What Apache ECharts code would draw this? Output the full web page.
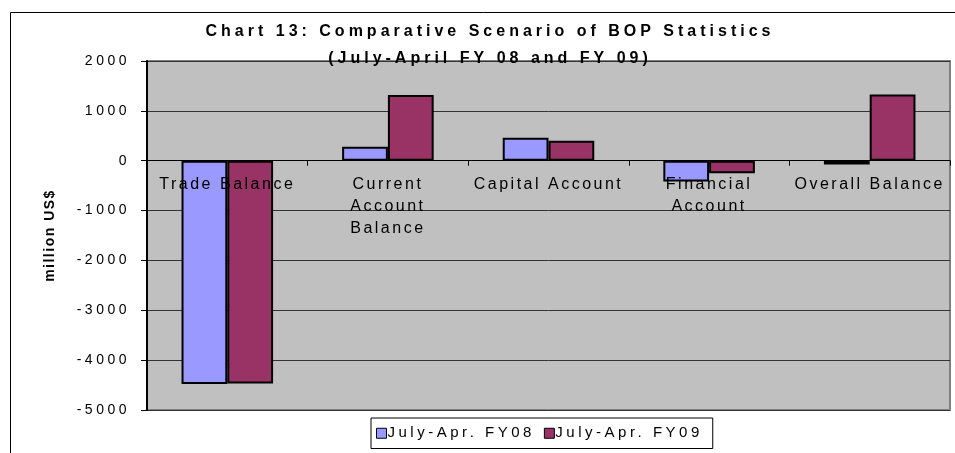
<!DOCTYPE html>
<html>
<head>
<meta charset="utf-8">
<script src="https://cdn.jsdelivr.net/npm/echarts@6/dist/echarts.min.js"></script>
<style>
  html, body { margin: 0; padding: 0; background: #fff; }
  #chart { width: 955px; height: 453px; }
</style>
</head>
<body>
<div id="chart"></div>
<script>
// data
var titleLines = ['Chart 13: Comparative Scenario of BOP Statistics', '(July-April FY 08 and FY 09)'];
var categories = ['Trade Balance', 'Current\nAccount\nBalance', 'Capital Account', 'Financial\nAccount', 'Overall Balance'];
var seriesNames = ['July-Apr. FY08', 'July-Apr. FY09'];
var fy08 = [-4480, 280, 460, -415, -75];
var fy09 = [-4470, 1320, 400, -250, 1330];
var yMin = -5000, yMax = 2000, yStep = 1000;
var yName = 'million US$';

// the old Excel picture has wide letter spacing, canvas can do it
function spacingFor(font) {
    var m = /(\d+(\.\d+)?)px/.exec(font);
    var size = m ? parseFloat(m[1]) : 12;
    var bold = /bold|700/.test(font);
    if (bold && size >= 16) return '4px';
    if (bold) return '1.5px';
    if (size >= 16) return '2.5px';
    return '3.5px';
}
var proto = CanvasRenderingContext2D.prototype;
var origFill = proto.fillText, origStroke = proto.strokeText, origMeasure = proto.measureText;
proto.fillText = function () { this.letterSpacing = spacingFor(this.font); return origFill.apply(this, arguments); };
proto.strokeText = function () { this.letterSpacing = spacingFor(this.font); return origStroke.apply(this, arguments); };
proto.measureText = function () { this.letterSpacing = spacingFor(this.font); return origMeasure.apply(this, arguments); };

var font = 'Liberation Sans';
var gridTop = 61, gridBottom = 43;
// x axis sits on the zero line, labels too
var zeroOffset = -(453 - gridBottom - (gridTop + (453 - gridTop - gridBottom) * yMax / (yMax - yMin)));

var chart = echarts.init(document.getElementById('chart'));
var option = {
    animation: false,
    backgroundColor: '#fff',
    textStyle: { fontFamily: font, color: '#000' },
    title: {
        text: titleLines.join('\n'),
        left: 490,
        top: 18,
        textAlign: 'center',
        padding: 0,
        textStyle: { fontFamily: font, fontSize: 16, fontWeight: 'bold', color: '#000', lineHeight: 27 }
    },
    graphic: [
        {
            type: 'rect',
            shape: { x: 10.5, y: 12.5, width: 1200, height: 1200 },
            style: { fill: 'none', stroke: '#000', lineWidth: 1 },
            z: -1
        }
    ],
    legend: {
        data: seriesNames,
        left: 371,
        top: 418,
        orient: 'horizontal',
        icon: 'rect',
        itemWidth: 10,
        itemHeight: 10,
        itemGap: 9,
        padding: [6, 10, 6, 5],
        backgroundColor: '#fff',
        borderColor: '#000',
        borderWidth: 1,
        borderRadius: 0,
        itemStyle: { borderColor: '#000', borderWidth: 1 },
        textStyle: { fontFamily: font, fontSize: 15, color: '#000', padding: [0, 0, 0, -4] }
    },
    grid: {
        left: 147,
        right: 5,
        top: gridTop,
        bottom: gridBottom,
        show: true,
        backgroundColor: '#C0C0C0',
        borderColor: '#808080',
        borderWidth: 2,
        containLabel: false,
        outerBoundsMode: 'none'
    },
    xAxis: {
        type: 'category',
        data: categories,
        z: 10,
        offset: zeroOffset,
        axisLine: { onZero: false, lineStyle: { color: '#000', width: 1 } },
        axisTick: { show: true, length: 5, lineStyle: { color: '#000' } },
        axisLabel: {
            interval: 0,
            margin: 13,
            fontFamily: font,
            fontSize: 16,
            lineHeight: 22,
            color: '#000'
        },
        splitLine: { show: false }
    },
    yAxis: {
        type: 'value',
        min: yMin,
        max: yMax,
        interval: yStep,
        name: yName,
        nameLocation: 'middle',
        nameGap: 89,
        nameTextStyle: { fontFamily: font, fontSize: 14, fontWeight: 'bold', color: '#000' },
        axisLine: { show: true, lineStyle: { color: '#000', width: 2 } },
        axisTick: { show: true, length: 6, lineStyle: { color: '#000' } },
        axisLabel: {
            margin: 17,
            fontFamily: font,
            fontSize: 14,
            color: '#000',
            formatter: function (v) { return String(v); }
        },
        splitLine: { show: true, lineStyle: { color: '#333', width: 1 } }
    },
    series: [
        {
            name: seriesNames[0],
            type: 'bar',
            data: fy08,
            barGap: '0%',
            barCategoryGap: '43%',
            itemStyle: { color: '#9999FF', borderColor: '#000', borderWidth: 2 }
        },
        {
            name: seriesNames[1],
            type: 'bar',
            data: fy09,
            itemStyle: { color: '#993366', borderColor: '#000', borderWidth: 2 }
        }
    ]
};
chart.setOption(option);
</script>
</body>
</html>
